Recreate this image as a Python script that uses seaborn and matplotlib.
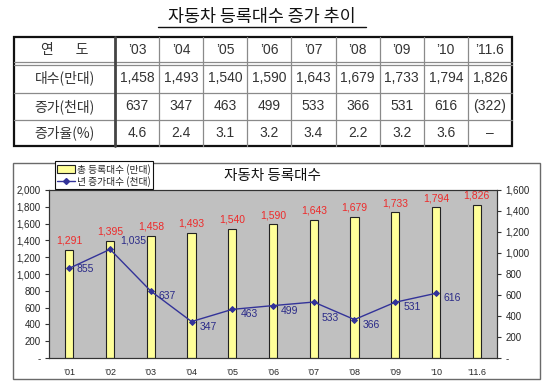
import numpy as np
import matplotlib
matplotlib.use('Agg')
import matplotlib.pyplot as plt
import seaborn as sns
from matplotlib.patches import Patch, Rectangle
from matplotlib.lines import Line2D

# Table data
table_years = ['’03', '’04', '’05', '’06', '’07', '’08', '’09', '’10', '’11.6']
table_total = [1458, 1493, 1540, 1590, 1643, 1679, 1733, 1794, 1826]
table_increase = ['637', '347', '463', '499', '533', '366', '531', '616', '(322)']
table_rate = ['4.6', '2.4', '3.1', '3.2', '3.4', '2.2', '3.2', '3.6', '–']
row_labels = ['연       도', '대수(만대)', '증가(천대)', '증가율(%)']

# Chart data
chart_years = ['’01', '’02', '’03', '’04', '’05', '’06', '’07', '’08', '’09', '’10', '’11.6']
chart_total = [1291, 1395, 1458, 1493, 1540, 1590, 1643, 1679, 1733, 1794, 1826]
chart_increase = [855, 1035, 637, 347, 463, 499, 533, 366, 531, 616]

sns.set_style('white')
plt.rcParams['font.family'] = ['Liberation Sans Narrow', 'Liberation Sans', 'Noto Sans CJK KR', 'DejaVu Sans']
kr = ['Noto Sans CJK KR', 'DejaVu Sans']

W, H = 550, 391
fig = plt.figure(figsize=(W / 100, H / 100), dpi=100)

# Background layer in pixel coordinates (title, table, chart frame)
bg = fig.add_axes([0, 0, 1, 1])
bg.set_xlim(0, W)
bg.set_ylim(H, 0)
bg.axis('off')

bg.text(262, 17, '자동차 등록대수 증가 추이', ha='center', va='center', fontsize=12.5, family=kr, color='#111111')
bg.plot([158, 366], [26.5, 26.5], color='#111111', lw=1)

# table grid
t_left, t_right, c0 = 14, 512, 115
rows = [37, 63.5, 92.5, 120, 146]
col_w = (t_right - c0) / len(table_years)
cols = [c0 + i * col_w for i in range(len(table_years) + 1)]
for y in rows[2:-1]:
    bg.plot([t_left, t_right], [y, y], color='#8a8a8a', lw=0.9)
for y in (rows[1] - 1.2, rows[1] + 1.2):
    bg.plot([t_left, t_right], [y, y], color='#8a8a8a', lw=0.9)
for x in cols[1:-1]:
    bg.plot([x, x], [rows[0], rows[-1]], color='#8a8a8a', lw=0.9)
bg.plot([c0, c0], [rows[0], rows[-1]], color='#444444', lw=2)
bg.add_patch(Rectangle((t_left, rows[0]), t_right - t_left, rows[-1] - rows[0], fill=False, ec='#111111', lw=1.6))

row_values = [table_years, [f'{v:,}' for v in table_total], table_increase, table_rate]
for r in range(4):
    yc = (rows[r] + rows[r + 1]) / 2
    bg.text((t_left + c0) / 2, yc, row_labels[r], ha='center', va='center', fontsize=10, family=kr, color='#333333')
    for i, s in enumerate(row_values[r]):
        bg.text((cols[i] + cols[i + 1]) / 2, yc, s, ha='center', va='center', fontsize=10, color='#333333')

# chart frame and title
bg.add_patch(Rectangle((13, 163), 527, 216, fill=False, ec='#6a6a6a', lw=1))
bg.text(272, 176, '자동차 등록대수', ha='center', va='center', fontsize=10.5, family=kr, color='#111111')

# Chart
ax = fig.add_axes([49 / W, 1 - 358 / H, (497 - 49) / W, (358 - 190) / H])
sns.barplot(x=chart_years, y=chart_total, order=chart_years, color='#ffff99', saturation=1,
            edgecolor='#222222', linewidth=0.8, width=0.2, ax=ax)
ax.set_facecolor('#c0c0c0')
ax.set_ylim(0, 2000)
ax.set_xlim(-0.5, len(chart_years) - 0.5)
ax.bar_label(ax.containers[0], labels=[f'{v:,}' for v in chart_total], padding=3,
             color='#ee2a2a', fontsize=7.5)

ax2 = ax.twinx()
sns.pointplot(x=chart_years[:len(chart_increase)], y=chart_increase, order=chart_years,
              color='#333399', markers='D', markersize=3, linewidth=1, ax=ax2)
ax2.set_ylim(0, 1600)
ax2.set_xlim(-0.5, len(chart_years) - 0.5)

# label offsets in pixels (right of point, slightly below)
offsets = {0: (7, -1), 1: (10, 9), 6: (8, -16)}
for i, v in enumerate(chart_increase):
    dx, dy = offsets.get(i, (8, -5))
    ax2.annotate(f'{v:,}', (i, v), xytext=(dx, dy), textcoords='offset pixels',
                 ha='left', va='center', fontsize=7.5, color='#2a2a88')

def fmt(v):
    return '-' if v == 0 else f'{v:,}'

ax.set_yticks(range(0, 2001, 200))
ax.set_yticklabels([fmt(v) for v in range(0, 2001, 200)], fontsize=7)
ax2.set_yticks(range(0, 1601, 200))
ax2.set_yticklabels([fmt(v) for v in range(0, 1601, 200)], fontsize=7)
ax.set_xticks(range(len(chart_years)))
ax.set_xticklabels(chart_years, fontsize=6.5)
ax.set_xticks(np.arange(-0.5, len(chart_years)), minor=True)
ax.tick_params(axis='x', which='major', length=0, pad=7)
ax.tick_params(axis='x', which='minor', length=3, direction='out', color='#333333')
ax.tick_params(axis='y', length=3, direction='out', pad=3, color='#333333')
ax2.tick_params(axis='y', length=3, direction='out', pad=3, color='#333333')
for a in (ax, ax2):
    a.set_xlabel('')
    a.set_ylabel('')
    for s in a.spines.values():
        s.set_color('#333333')
        s.set_linewidth(0.8)

handles = [Patch(facecolor='#ffff99', edgecolor='#222222', lw=0.8, label='총 등록대수 (만대)'),
           Line2D([0], [0], color='#333399', lw=1, marker='D', markersize=3, label='년 증가대수 (천대)')]
leg = fig.legend(handles=handles, loc='lower left', bbox_to_anchor=(55 / W, 1 - 189 / H),
                 fontsize=7, frameon=True, fancybox=False, edgecolor='#111111', framealpha=1,
                 borderpad=0.25, labelspacing=0.1, handlelength=1.8, handleheight=0.8,
                 handletextpad=0.2, borderaxespad=0, prop={'family': kr, 'size': 7})
leg.get_frame().set_linewidth(0.8)

fig.savefig('out.png', dpi=100)
